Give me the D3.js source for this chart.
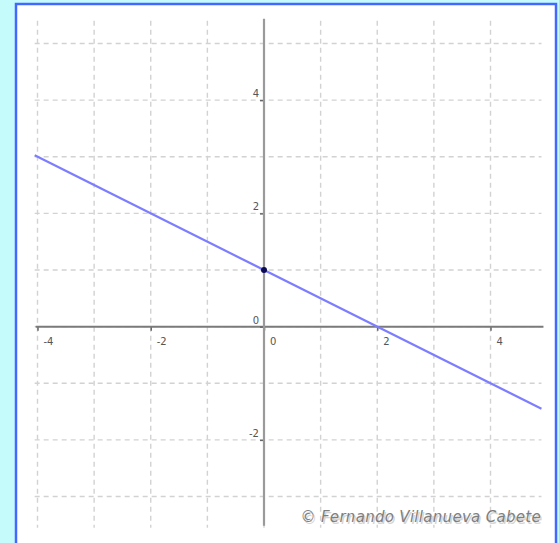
<!DOCTYPE html>
<html>
<head>
<meta charset="utf-8">
<script src="https://cdn.jsdelivr.net/npm/d3@7"></script>
<style>
  html, body { margin: 0; padding: 0; background: #c6fbfc; }
  svg { display: block; }
</style>
</head>
<body>
<svg id="chart" width="559" height="543"></svg>
<script>
// Grid values, labelled ticks and the plotted line y = -x/2 + 1
const gridX = [-4, -3, -2, -1, 0, 1, 2, 3, 4];
const gridY = [-3, -2, -1, 0, 1, 2, 3, 4, 5];
const xTickLabels = [-4, -2, 0, 2, 4];
const yTickLabels = [-2, 0, 2, 4];
const lineX = [-4.05, 4.9];
const lineY = [3.025, -1.45];
const pointX = [0];
const pointY = [1];
const credit = "© Fernando Villanueva Cabete";

const svg = d3.select("#chart");

const x = d3.scaleLinear().domain([-4, 4]).range([37.5, 490.5]);
const y = d3.scaleLinear().domain([-3, 5]).range([496.5, 43.5]);

// Panel with blue frame
svg.append("rect")
  .attr("x", 16).attr("y", 4)
  .attr("width", 540).attr("height", 560)
  .attr("fill", "#ffffff")
  .attr("stroke", "#4468ff")
  .attr("stroke-width", 2.5);

const xMin = -4.05, xMax = 4.9, yMin = -3.55, yMax = 5.4;

// Dashed grid
const grid = svg.append("g")
  .attr("stroke", "#d2d2d2")
  .attr("stroke-width", 1.4)
  .attr("stroke-dasharray", "5,4");
grid.selectAll("line.v").data(gridX).join("line")
  .attr("class", "v")
  .attr("x1", d => x(d)).attr("x2", d => x(d))
  .attr("y1", y(yMax)).attr("y2", y(yMin));
grid.selectAll("line.h").data(gridY).join("line")
  .attr("class", "h")
  .attr("x1", x(xMin)).attr("x2", x(xMax))
  .attr("y1", d => y(d)).attr("y2", d => y(d));

// Axes
const xAxis = d3.axisBottom(x).tickValues(xTickLabels).tickSize(4).tickFormat("");
const yAxis = d3.axisLeft(y).tickValues(yTickLabels).tickSize(4).tickFormat("");

const gx = svg.append("g").attr("transform", `translate(0,${y(0)})`).call(xAxis);
gx.select(".domain").remove();
gx.selectAll(".tick line").attr("stroke", "#666").attr("stroke-width", 1.5);
svg.append("line")
  .attr("x1", x(xMin) + 1).attr("x2", x(xMax) + 2)
  .attr("y1", y(0)).attr("y2", y(0))
  .attr("stroke", "#7a7a7a").attr("stroke-width", 2);

const gy = svg.append("g").attr("transform", `translate(${x(0)},0)`).call(yAxis);
gy.select(".domain").remove();
gy.selectAll(".tick line").attr("stroke", "#666").attr("stroke-width", 1.5);
svg.append("line")
  .attr("x1", x(0)).attr("x2", x(0))
  .attr("y1", y(yMax) - 2).attr("y2", y(yMin) - 2)
  .attr("stroke", "#9a9a9a").attr("stroke-width", 2.2);

// Tick labels
const labelStyle = sel => sel
  .attr("font-family", "DejaVu Sans, sans-serif")
  .attr("font-size", 10)
  .attr("fill", "#555");

svg.append("g").selectAll("text").data(xTickLabels).join("text")
  .call(labelStyle)
  .attr("x", d => x(d) + 6)
  .attr("y", y(0) + 18)
  .text(d => d < 0 ? "-" + Math.abs(d) : d);

svg.append("g").selectAll("text").data(yTickLabels).join("text")
  .call(labelStyle)
  .attr("text-anchor", "end")
  .attr("x", x(0) - 5)
  .attr("y", d => y(d) - 3)
  .text(d => d < 0 ? "-" + Math.abs(d) : d);

// The line
const line = d3.line().x(d => x(d[0])).y(d => y(d[1]));
svg.append("path")
  .datum(d3.zip(lineX, lineY))
  .attr("d", line)
  .attr("fill", "none")
  .attr("stroke", "#7d7dff")
  .attr("stroke-width", 2.2);

// y-intercept point
svg.selectAll("circle.pt").data(d3.zip(pointX, pointY)).join("circle")
  .attr("class", "pt")
  .attr("cx", d => x(d[0])).attr("cy", d => y(d[1]))
  .attr("r", 3)
  .attr("fill", "#0a0a55");

// Author credit, with a soft drop shadow
const creditText = (fill, off) => svg.append("text")
  .attr("x", 541 + off).attr("y", 522 + off)
  .attr("text-anchor", "end")
  .attr("font-family", "DejaVu Sans, sans-serif")
  .attr("font-style", "italic")
  .attr("font-size", 15)
  .attr("letter-spacing", 0.3)
  .attr("fill", fill)
  .text(credit);
creditText("#d4d4d4", 1.5);
creditText("#7e7e7e", 0);
</script>
</body>
</html>
